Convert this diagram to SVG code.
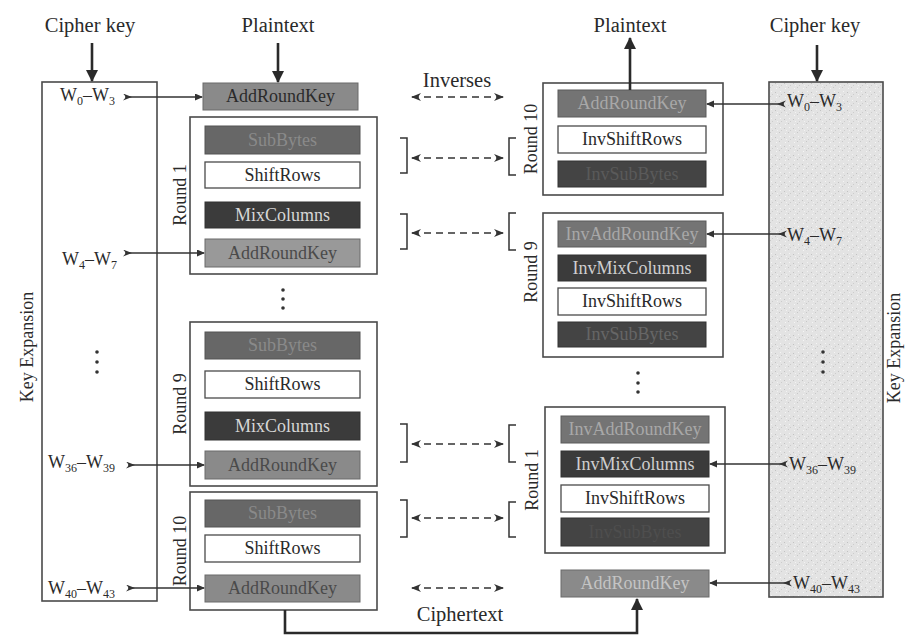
<svg xmlns="http://www.w3.org/2000/svg" width="907" height="637" viewBox="0 0 907 637">
<style>
text{font-family:"Liberation Serif","Times New Roman",serif;fill:#2a2a2a}
.lbl{font-size:20.5px;text-anchor:middle}
.bt{font-size:18px;text-anchor:middle}
.rl{font-size:18px;text-anchor:middle}
.w{font-size:18px}
.outer{fill:#fff;stroke:#4a4a4a;stroke-width:1.6}
.wht{fill:#fff;stroke:#4a4a4a;stroke-width:1.3}
.ark{fill:#8a8a8a;stroke:#6a6a6a;stroke-width:1}
.ark2{fill:#747474;stroke:#5a5a5a;stroke-width:1}
.sub{fill:#676767;stroke:#555;stroke-width:1}
.mix{fill:#3b3b3b;stroke:#333;stroke-width:1}
.isb{fill:#444;stroke:#333;stroke-width:1}
.main{stroke:#2a2a2a;stroke-width:2.6;fill:none}
.warr{stroke:#333;stroke-width:1.3;fill:none}
.dash{stroke:#333;stroke-width:1.5;fill:none;stroke-dasharray:7 5}
.brk{stroke:#333;stroke-width:1.5;fill:none}
.dot{fill:#333}
</style>
<defs>
<marker id="big" markerUnits="userSpaceOnUse" markerWidth="12" markerHeight="12" refX="11" refY="6" orient="auto"><path d="M0,0 L12,6 L0,12 z" fill="#2a2a2a"/></marker>
<marker id="sm" markerUnits="userSpaceOnUse" markerWidth="8" markerHeight="8" refX="7" refY="3.5" orient="auto"><path d="M0,0 L8,3.5 L0,7 z" fill="#333"/></marker>
<marker id="tail" markerUnits="userSpaceOnUse" markerWidth="10" markerHeight="8" refX="2" refY="3.5" orient="auto"><path d="M0,0 L9,3.5 L0,7 L3,3.5 z" fill="#333"/></marker>
<marker id="dh" markerUnits="userSpaceOnUse" markerWidth="10" markerHeight="8" refX="9" refY="4" orient="auto-start-reverse"><path d="M0,0 L10,4 L0,8 L3,4 z" fill="#333"/></marker>
<pattern id="speck" width="9" height="9" patternUnits="userSpaceOnUse">
<rect width="9" height="9" fill="#e3e3e3"/>
<rect x="1" y="2" width="1" height="1" fill="#c2c2c2"/><rect x="5" y="6" width="1" height="1" fill="#c8c8c8"/><rect x="6" y="1" width="1" height="1" fill="#f4f4f4"/><rect x="2" y="7" width="1" height="1" fill="#f5f5f5"/><rect x="7" y="4" width="1" height="1" fill="#cccccc"/><rect x="3" y="4" width="1" height="1" fill="#f2f2f2"/>
</pattern>
</defs>

<!-- Left side: encryption -->
<g id="cipherkey-left"><text class="lbl" x="90" y="32">Cipher key</text></g>
<g id="plaintext-left"><text class="lbl" x="278" y="32">Plaintext</text></g>

<g id="keyexp-left">
<rect x="42" y="82" width="115" height="519" fill="#fff" stroke="#4a4a4a" stroke-width="1.6"/>
<text class="rl" transform="translate(33,347) rotate(-90)" x="0" y="0">Key Expansion</text>
<text class="w" x="60" y="101">W<tspan dy="4" font-size="12">0</tspan><tspan dy="-4">–W</tspan><tspan dy="4" font-size="12">3</tspan></text>
<text class="w" x="62" y="265">W<tspan dy="4" font-size="12">4</tspan><tspan dy="-4">–W</tspan><tspan dy="4" font-size="12">7</tspan></text>
<text class="w" x="48" y="468">W<tspan dy="4" font-size="12">36</tspan><tspan dy="-4">–W</tspan><tspan dy="4" font-size="12">39</tspan></text>
<text class="w" x="48" y="594">W<tspan dy="4" font-size="12">40</tspan><tspan dy="-4">–W</tspan><tspan dy="4" font-size="12">43</tspan></text>
<circle class="dot" cx="97" cy="352" r="1.8"/><circle class="dot" cx="97" cy="362" r="1.8"/><circle class="dot" cx="97" cy="372" r="1.8"/>
</g>

<g id="enc-ark0">
<rect class="ark" x="203" y="83" width="155" height="27"/>
<text class="bt" x="280.5" y="102" fill="#3a3a3a">AddRoundKey</text>
</g>

<g id="enc-round1">
<rect class="outer" x="190" y="117" width="187" height="157"/>
<text class="rl" transform="translate(186,195) rotate(-90)">Round 1</text>
<rect class="sub" x="205" y="126" width="155" height="28"/>
<text class="bt" x="282.5" y="146" style="fill:#8a8a8a">SubBytes</text>
<rect class="wht" x="205" y="162" width="155" height="26"/>
<text class="bt" x="282.5" y="181">ShiftRows</text>
<rect class="mix" x="205" y="202" width="155" height="26"/>
<text class="bt" x="282.5" y="221" style="fill:#d6d6d6">MixColumns</text>
<rect class="ark" x="205" y="239" width="155" height="28" style="fill:#999"/>
<text class="bt" x="282.5" y="259" style="fill:#4a4a4a">AddRoundKey</text>
</g>

<g id="enc-dots">
<circle class="dot" cx="283" cy="290" r="1.8"/><circle class="dot" cx="283" cy="299" r="1.8"/><circle class="dot" cx="283" cy="308" r="1.8"/>
</g>

<g id="enc-round9">
<rect class="outer" x="190" y="322" width="187" height="164"/>
<text class="rl" transform="translate(186,404) rotate(-90)">Round 9</text>
<rect class="sub" x="205" y="332" width="155" height="27"/>
<text class="bt" x="282.5" y="351" style="fill:#8a8a8a">SubBytes</text>
<rect class="wht" x="205" y="371" width="155" height="27"/>
<text class="bt" x="282.5" y="390">ShiftRows</text>
<rect class="mix" x="205" y="412" width="155" height="28"/>
<text class="bt" x="282.5" y="432" style="fill:#d6d6d6">MixColumns</text>
<rect class="ark" x="205" y="451" width="155" height="28"/>
<text class="bt" x="282.5" y="471" style="fill:#4a4a4a">AddRoundKey</text>
</g>

<g id="enc-round10">
<rect class="outer" x="190" y="492" width="187" height="118"/>
<text class="rl" transform="translate(186,551) rotate(-90)">Round 10</text>
<rect class="sub" x="205" y="500" width="155" height="27"/>
<text class="bt" x="282.5" y="519" style="fill:#8a8a8a">SubBytes</text>
<rect class="wht" x="205" y="535" width="155" height="27"/>
<text class="bt" x="282.5" y="554">ShiftRows</text>
<rect class="ark" x="205" y="575" width="155" height="27"/>
<text class="bt" x="282.5" y="594" style="fill:#4a4a4a">AddRoundKey</text>
</g>

<!-- Right side: decryption -->
<g id="plaintext-right"><text class="lbl" x="630" y="32">Plaintext</text></g>
<g id="cipherkey-right"><text class="lbl" x="815" y="32">Cipher key</text></g>

<g id="keyexp-right">
<rect x="769" y="82" width="114" height="515" fill="url(#speck)" stroke="#4a4a4a" stroke-width="1.6"/>
<text class="rl" transform="translate(900,348) rotate(-90)">Key Expansion</text>
<text class="w" x="787" y="107">W<tspan dy="4" font-size="12">0</tspan><tspan dy="-4">–W</tspan><tspan dy="4" font-size="12">3</tspan></text>
<text class="w" x="787" y="241">W<tspan dy="4" font-size="12">4</tspan><tspan dy="-4">–W</tspan><tspan dy="4" font-size="12">7</tspan></text>
<text class="w" x="789" y="470">W<tspan dy="4" font-size="12">36</tspan><tspan dy="-4">–W</tspan><tspan dy="4" font-size="12">39</tspan></text>
<text class="w" x="793" y="589">W<tspan dy="4" font-size="12">40</tspan><tspan dy="-4">–W</tspan><tspan dy="4" font-size="12">43</tspan></text>
<circle class="dot" cx="823" cy="352" r="1.8"/><circle class="dot" cx="823" cy="362" r="1.8"/><circle class="dot" cx="823" cy="372" r="1.8"/>
</g>

<g id="dec-round10">
<rect class="outer" x="543" y="83" width="180" height="112"/>
<text class="rl" transform="translate(537,139) rotate(-90)">Round 10</text>
<rect class="ark2" x="558" y="90" width="148" height="27"/>
<text class="bt" x="632" y="109" style="fill:#a8a8a8">AddRoundKey</text>
<rect class="wht" x="558" y="126" width="148" height="27"/>
<text class="bt" x="632" y="145">InvShiftRows</text>
<rect class="isb" x="558" y="161" width="148" height="26"/>
<text class="bt" x="632" y="180" style="fill:#5a5a5a">InvSubBytes</text>
</g>

<g id="dec-round9">
<rect class="outer" x="543" y="213" width="180" height="144"/>
<text class="rl" transform="translate(537,272) rotate(-90)">Round 9</text>
<rect class="ark2" x="558" y="221" width="148" height="26"/>
<text class="bt" x="632" y="240" style="fill:#a8a8a8">InvAddRoundKey</text>
<rect class="mix" x="558" y="255" width="148" height="26"/>
<text class="bt" x="632" y="274" style="fill:#cfcfcf">InvMixColumns</text>
<rect class="wht" x="558" y="288" width="148" height="27"/>
<text class="bt" x="632" y="307">InvShiftRows</text>
<rect class="isb" x="558" y="322" width="148" height="25"/>
<text class="bt" x="632" y="340" style="fill:#666">InvSubBytes</text>
</g>

<g id="dec-dots">
<circle class="dot" cx="638" cy="373" r="1.8"/><circle class="dot" cx="638" cy="383" r="1.8"/><circle class="dot" cx="638" cy="392" r="1.8"/>
</g>

<g id="dec-round1">
<rect class="outer" x="545" y="407" width="180" height="146"/>
<text class="rl" transform="translate(538,480) rotate(-90)">Round 1</text>
<rect class="ark2" x="561" y="416" width="148" height="27"/>
<text class="bt" x="635" y="435" style="fill:#a8a8a8">InvAddRoundKey</text>
<rect class="mix" x="561" y="451" width="148" height="26"/>
<text class="bt" x="635" y="470" style="fill:#cfcfcf">InvMixColumns</text>
<rect class="wht" x="561" y="485" width="148" height="27"/>
<text class="bt" x="635" y="504">InvShiftRows</text>
<rect class="isb" x="561" y="518" width="148" height="28"/>
<text class="bt" x="635" y="538" style="fill:#4e4e4e">InvSubBytes</text>
</g>

<g id="dec-ark-final">
<rect class="ark" x="561" y="570" width="148" height="27"/>
<text class="bt" x="635" y="589" style="fill:#c4c4c4">AddRoundKey</text>
</g>

<g id="inverses-label"><text class="lbl" x="457" y="87">Inverses</text></g>
<g id="ciphertext-label"><text class="lbl" x="460" y="621">Ciphertext</text></g>

<g id="connectors">
<line class="main" x1="92" y1="43" x2="92" y2="81" marker-end="url(#big)"/>
<line class="main" x1="278" y1="43" x2="278" y2="82" marker-end="url(#big)"/>
<line class="main" x1="630" y1="90" x2="630" y2="38" marker-end="url(#big)"/>
<line class="main" x1="817" y1="45" x2="817" y2="81" marker-end="url(#big)"/>
<polyline class="main" points="285,610 285,633 637,633 637,599" marker-end="url(#big)"/>
<line class="warr" x1="125" y1="97" x2="202" y2="97" marker-start="url(#tail)" marker-end="url(#sm)"/>
<line class="warr" x1="125" y1="253" x2="204" y2="253" marker-start="url(#tail)" marker-end="url(#sm)"/>
<line class="warr" x1="128" y1="465" x2="204" y2="465" marker-start="url(#tail)" marker-end="url(#sm)"/>
<line class="warr" x1="128" y1="588" x2="204" y2="588" marker-start="url(#tail)" marker-end="url(#sm)"/>
<line class="warr" x1="784" y1="104" x2="707" y2="104" marker-start="url(#tail)" marker-end="url(#sm)"/>
<line class="warr" x1="785" y1="234" x2="707" y2="234" marker-start="url(#tail)" marker-end="url(#sm)"/>
<line class="warr" x1="786" y1="464" x2="710" y2="464" marker-start="url(#tail)" marker-end="url(#sm)"/>
<line class="warr" x1="790" y1="583" x2="710" y2="583" marker-start="url(#tail)" marker-end="url(#sm)"/>
<path class="brk" d="M400,138 H407 V173 H400"/>
<path class="brk" d="M400,214 H407 V249 H400"/>
<path class="brk" d="M400,424 H407 V462 H400"/>
<path class="brk" d="M400,500 H407 V537 H400"/>
<path class="brk" d="M516,138 H509 V175 H516"/>
<path class="brk" d="M516,213 H509 V250 H516"/>
<path class="brk" d="M516,425 H509 V462 H516"/>
<path class="brk" d="M516,502 H509 V537 H516"/>
<line class="dash" x1="412" y1="97" x2="503" y2="97" marker-start="url(#dh)" marker-end="url(#dh)"/>
<line class="dash" x1="412" y1="158" x2="503" y2="158" marker-start="url(#dh)" marker-end="url(#dh)"/>
<line class="dash" x1="412" y1="233" x2="503" y2="233" marker-start="url(#dh)" marker-end="url(#dh)"/>
<line class="dash" x1="412" y1="444" x2="503" y2="444" marker-start="url(#dh)" marker-end="url(#dh)"/>
<line class="dash" x1="412" y1="518" x2="503" y2="518" marker-start="url(#dh)" marker-end="url(#dh)"/>
<line class="dash" x1="412" y1="588" x2="503" y2="588" marker-start="url(#dh)" marker-end="url(#dh)"/>
</g>
</svg>
